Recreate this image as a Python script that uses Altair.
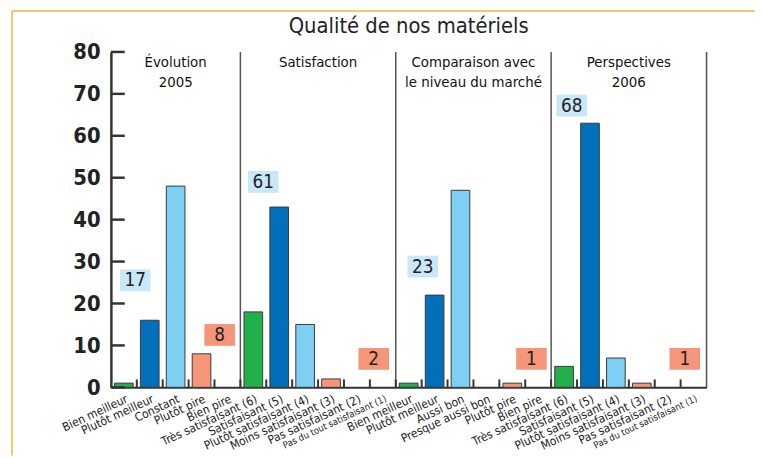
import altair as alt
import pandas as pd

FONT = "Liberation Sans Narrow, DejaVu Sans Condensed, Roboto, sans-serif"

title_text = "Qualité de nos matériels"
panel_titles = ["Évolution\n2005", "Satisfaction", "Comparaison avec\nle niveau du marché", "Perspectives\n2006"]
panel_index = [0] * 5 + [1] * 6 + [2] * 6 + [3] * 6
categories = [
    "Bien meilleur", "Plutôt meilleur", "Constant", "Plutôt pire", "Bien pire",
    "Très satisfaisant (6)", "Satisfaisant (5)", "Plutôt satisfaisant (4)", "Moins satisfaisant (3)",
    "Pas satisfaisant (2)", "Pas du tout satisfaisant (1)",
    "Bien meilleur", "Plutôt meilleur", "Aussi bon", "Presque aussi bon", "Plutôt pire", "Bien pire",
    "Très satisfaisant (6)", "Satisfaisant (5)", "Plutôt satisfaisant (4)", "Moins satisfaisant (3)",
    "Pas satisfaisant (2)", "Pas du tout satisfaisant (1)",
]
values = [1, 16, 48, 8, 0,
          18, 43, 15, 2, 0, 0,
          1, 22, 47, 0, 1, 0,
          5, 63, 7, 1, 0, 0]
tones = ["++", "+", "=", "-", "--",
         "++", "+", "=", "-", "--", "--",
         "++", "+", "=", "=", "-", "--",
         "++", "+", "=", "-", "--", "--"]
y_ticks = [0, 10, 20, 30, 40, 50, 60, 70, 80]

# summary boxes (position in category units, height in value units)
ann_text = ["17", "8", "61", "2", "23", "1", "68", "1"]
ann_kind = ["pos", "neg", "pos", "neg", "pos", "neg", "pos", "neg"]
ann_pos = [0.94, 4.2, 5.88, 10.15, 12.04, 16.24, 17.8, 22.16]
ann_y = [25.5, 12.5, 49, 6.8, 28.8, 6.8, 67.2, 6.8]

W, H = 602, 339
PAD = {"left": 104, "top": 42, "right": 49, "bottom": 69}
N = len(categories)

keys = [f"{p}:{c}" for p, c in zip(panel_index, categories)]
bars_df = pd.DataFrame({"key": keys, "value": values, "tone": tones})
bars_df = bars_df[bars_df.value > 0]

counts = [panel_index.count(i) for i in range(len(panel_titles))]
bounds, s = [], 0
for c in counts:
    bounds.append((s, s + c))
    s += c
head_df = pd.DataFrame({"label": panel_titles, "pos": [(a + b) / 2 for a, b in bounds]})
sep_df = pd.DataFrame({"pos": [b for _, b in bounds]})
xt_df = pd.DataFrame({"pos": list(range(1, N))})
ann_df = pd.DataFrame({"label": ann_text, "kind": ann_kind, "pos": ann_pos, "ly": ann_y})
yt_df = pd.DataFrame({"t": y_ticks})

yscale = alt.Scale(domain=[0, 80], nice=False, zero=True)
qx = alt.Scale(domain=[0, N], nice=False, zero=False)

bars = alt.Chart(bars_df).mark_bar(stroke="#3a3a3a", strokeWidth=1).encode(
    x=alt.X("key:N", sort=keys, scale=alt.Scale(domain=keys, paddingInner=0.28, paddingOuter=0.14),
            axis=alt.Axis(title=None, labelExpr="split(datum.value, ':')[1]", labelAngle=335,
                          labelAlign="right", labelBaseline="top", labelPadding=6, labelOffset=1,
                          labelFontSize={"condition": {"test": "indexof(datum.value, 'Pas du tout') >= 0", "value": 9.5}, "value": 12},
                          labelFont=FONT, labelColor="#222", ticks=False, domainColor="#333",
                          domainWidth=2, grid=False, labelOverlap=False, labelLimit=300)),
    y=alt.Y("value:Q", scale=yscale,
            axis=alt.Axis(title=None, values=y_ticks, grid=True, gridColor="white", gridWidth=2,
                          gridOpacity=1, ticks=False, domainColor="#333", domainWidth=2.5,
                          labelFont=FONT, labelFontSize=22, labelFontWeight="bold", labelColor="#222",
                          labelPadding=11, labelFlush=False)),
    color=alt.Color("tone:N", legend=None,
                    scale=alt.Scale(domain=["++", "+", "=", "-", "--"],
                                    range=["#21b04b", "#0070ba", "#7dd0f4", "#f59579", "#f59579"])),
)

yticks = alt.Chart(yt_df).mark_rule(color="#333", strokeWidth=2.5).encode(
    y=alt.Y("t:Q", scale=yscale, title=None), x=alt.value(0), x2=alt.value(14))

seps = alt.Chart(sep_df).mark_rule(color="#555", strokeWidth=1.5).encode(
    x=alt.X("pos:Q", scale=qx, axis=None), y=alt.value(0), y2=alt.value(H))

xticks = alt.Chart(xt_df).mark_rule(color="#333", strokeWidth=2).encode(
    x=alt.X("pos:Q", scale=qx, axis=None), y=alt.value(H), y2=alt.value(H - 8))

heads = alt.Chart(head_df).mark_text(font=FONT, fontSize=15, fontWeight="normal", color="#111",
                                     baseline="top", lineBreak="\n", lineHeight=20).encode(
    x=alt.X("pos:Q", scale=qx, axis=None), y=alt.value(3), text="label:N")

boxes = alt.Chart(ann_df).transform_calculate(
    x1="datum.pos - 0.59", x2="datum.pos + 0.59", y1="datum.ly - 2.6", y2="datum.ly + 2.6"
).mark_rect().encode(
    x=alt.X("x1:Q", scale=qx, axis=None), x2="x2:Q",
    y=alt.Y("y1:Q", scale=yscale, title=None), y2="y2:Q",
    fill=alt.Fill("kind:N", legend=None,
                  scale=alt.Scale(domain=["pos", "neg"], range=["#c8e8f8", "#f59579"])),
)

box_text = alt.Chart(ann_df).mark_text(font=FONT, fontSize=19, color="#222").encode(
    x=alt.X("pos:Q", scale=qx, axis=None), y=alt.Y("ly:Q", scale=yscale, title=None), text="label:N")

one = alt.Data(values=[{"t": title_text}])
title_mark = alt.Chart(one).mark_text(font=FONT, fontSize=22, color="#222", baseline="middle",
                                      align="center").encode(
    x=alt.value(W / 2), y=alt.value(-26), text="t:N")

frame_left = alt.Chart(one).mark_rule(color="#f2b53e", strokeWidth=1.5).encode(
    x=alt.value(-100), y=alt.value(-41.3), y2=alt.value(H + PAD["bottom"]))
frame_top = alt.Chart(one).mark_rule(color="#f2b53e", strokeWidth=1.5).encode(
    y=alt.value(-41.3), x=alt.value(-100), x2=alt.value(W + PAD["right"]))

chart = alt.layer(
    bars, yticks, seps, xticks, heads, boxes, box_text, title_mark, frame_left, frame_top
).resolve_scale(x="independent").properties(
    width=W, height=H,
    autosize=alt.AutoSizeParams(type="none"),
    padding=PAD,
).configure_view(fill="#f8e5c3", stroke=None).configure(background="white").configure_axisX(
    labelFontSize=12
)

chart.save("out.html", embed_options={"renderer": "svg", "actions": False})
